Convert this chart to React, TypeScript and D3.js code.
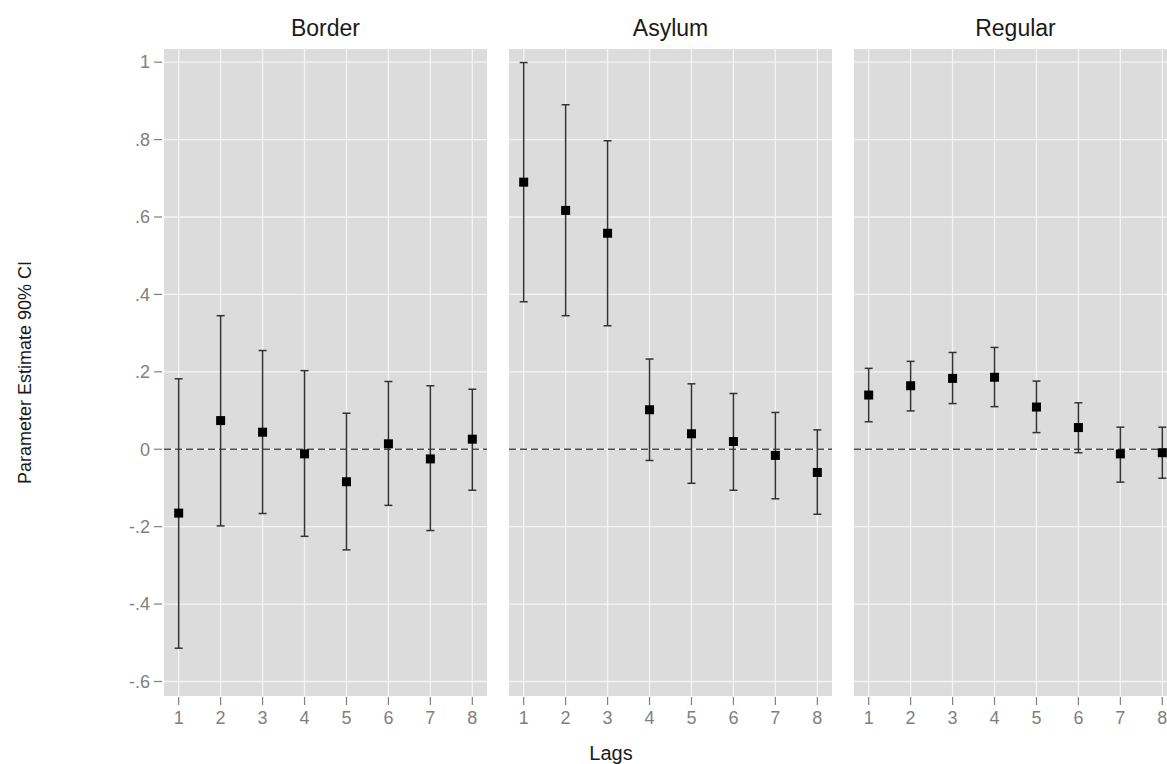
import React from "react";
import * as d3 from "d3";

const panels = ["Border", "Asylum", "Regular"];
const lags = [1, 2, 3, 4, 5, 6, 7, 8];

const borderEst = [-0.165, 0.074, 0.044, -0.012, -0.084, 0.014, -0.025, 0.026];
const borderLo = [-0.514, -0.198, -0.166, -0.225, -0.26, -0.145, -0.21, -0.106];
const borderHi = [0.182, 0.345, 0.255, 0.203, 0.093, 0.175, 0.164, 0.155];

const asylumEst = [0.69, 0.617, 0.558, 0.102, 0.04, 0.02, -0.016, -0.06];
const asylumLo = [0.381, 0.345, 0.319, -0.029, -0.088, -0.106, -0.128, -0.168];
const asylumHi = [0.999, 0.89, 0.797, 0.233, 0.169, 0.144, 0.095, 0.05];

const regularEst = [0.14, 0.164, 0.183, 0.186, 0.109, 0.056, -0.012, -0.009];
const regularLo = [0.071, 0.099, 0.118, 0.11, 0.043, -0.009, -0.085, -0.075];
const regularHi = [0.209, 0.227, 0.25, 0.263, 0.176, 0.12, 0.057, 0.057];

const yTicks = [-0.6, -0.4, -0.2, 0, 0.2, 0.4, 0.6, 0.8, 1];
const yTickLabels = ["-.6", "-.4", "-.2", "0", ".2", ".4", ".6", ".8", "1"];

const seriesByPanel = [
  { est: borderEst, lo: borderLo, hi: borderHi },
  { est: asylumEst, lo: asylumLo, hi: asylumHi },
  { est: regularEst, lo: regularLo, hi: regularHi },
];

const W = 1167;
const H = 764;
const panelLeft = 164;
const panelW = 323;
const panelGap = 22;
const panelTop = 49;
const panelBottom = 696;
const FONT = "'Liberation Sans', Arial, Helvetica, sans-serif";

export default function App() {
  const x = d3.scaleLinear().domain([0.65, 8.35]).range([0, panelW]);
  const y = d3.scaleLinear().domain([-0.6375, 1.034]).range([panelBottom, panelTop]);
  const capW = 4;
  const pt = 9;

  return (
    <svg
      width={W}
      height={H}
      style={{ position: "absolute", left: 0, top: 0, background: "#fff" }}
      fontFamily={FONT}
    >
      {/* y axis ticks & labels */}
      {yTicks.map((t, i) => (
        <g key={"yt" + i}>
          <line x1={panelLeft - 10} x2={panelLeft - 2} y1={y(t)} y2={y(t)} stroke="#7f7f7f" strokeWidth={1.2} />
          <text x={panelLeft - 14} y={y(t)} dy="0.35em" textAnchor="end" fontSize={18} fill="#7f7f7f">
            {yTickLabels[i]}
          </text>
        </g>
      ))}
      <text
        transform={`translate(31,${(panelTop + panelBottom) / 2}) rotate(-90)`}
        textAnchor="middle"
        fontSize={18}
        fill="#1a1a1a"
      >
        Parameter Estimate 90% CI
      </text>

      {panels.map((name, p) => {
        const ox = panelLeft + p * (panelW + panelGap);
        const s = seriesByPanel[p];
        return (
          <g key={name}>
            <rect x={ox} y={panelTop} width={panelW} height={panelBottom - panelTop} fill="#dcdcdc" />
            {yTicks.map((t, i) => (
              <line key={"gy" + i} x1={ox} x2={ox + panelW} y1={y(t)} y2={y(t)} stroke="#f4f4f4" strokeWidth={1.3} />
            ))}
            {lags.map((l) => (
              <line key={"gx" + l} x1={ox + x(l)} x2={ox + x(l)} y1={panelTop} y2={panelBottom} stroke="#f4f4f4" strokeWidth={1.3} />
            ))}
            <line
              x1={ox}
              x2={ox + panelW}
              y1={y(0)}
              y2={y(0)}
              stroke="#4d4d4d"
              strokeWidth={1.5}
              strokeDasharray="7,4"
            />
            {lags.map((l, i) => {
              const cx = ox + x(l);
              return (
                <g key={"e" + l}>
                  <line x1={cx} x2={cx} y1={y(s.lo[i])} y2={y(s.hi[i])} stroke="#333" strokeWidth={1.5} />
                  <line x1={cx - capW} x2={cx + capW} y1={y(s.lo[i])} y2={y(s.lo[i])} stroke="#333" strokeWidth={1.5} />
                  <line x1={cx - capW} x2={cx + capW} y1={y(s.hi[i])} y2={y(s.hi[i])} stroke="#333" strokeWidth={1.5} />
                  <rect x={cx - pt / 2} y={y(s.est[i]) - pt / 2} width={pt} height={pt} fill="#000" />
                </g>
              );
            })}
            {lags.map((l) => (
              <g key={"xt" + l}>
                <line x1={ox + x(l)} x2={ox + x(l)} y1={panelBottom + 1} y2={panelBottom + 9} stroke="#7f7f7f" strokeWidth={1.2} />
                <text x={ox + x(l)} y={panelBottom + 28} textAnchor="middle" fontSize={18} fill="#7f7f7f">
                  {l}
                </text>
              </g>
            ))}
            <text x={ox + panelW / 2} y={35.5} textAnchor="middle" fontSize={23} fill="#1a1a1a">
              {name}
            </text>
          </g>
        );
      })}

      <text x={611} y={760} textAnchor="middle" fontSize={20} fill="#1a1a1a">
        Lags
      </text>
    </svg>
  );
}
